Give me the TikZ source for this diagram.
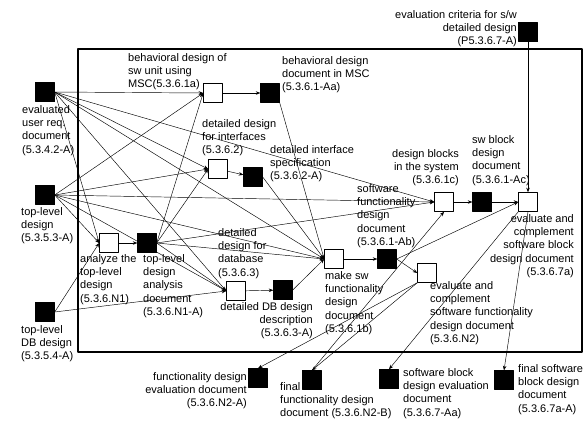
\documentclass[tikz,border=0pt]{standalone}
\usepackage{fontspec}
\setmainfont{Liberation Sans}
\usetikzlibrary{arrows.meta}
\tikzset{
  doc/.style={draw, fill=black, minimum size=19pt, inner sep=0pt},
  act/.style={draw, fill=white, minimum size=19pt, inner sep=0pt, line width=0.6pt},
  txt/.style={inner sep=0pt, align=left},
  arc/.style={-{Stealth[length=4.5pt,width=3.5pt]}, line width=0.45pt},
}
\begin{document}
\begin{tikzpicture}[x=1pt, y=-1pt, font=\fontsize{11}{13.3}\selectfont, line join=round]
        \useasboundingbox (0,0) rectangle (586,421);
        %frame
        \draw[line width=2.6pt] (78,49) rectangle (582,352);
        %documents
        \node[doc] (E1) at (45,92) {};
        \node[doc] (E2) at (45,195) {};
        \node[doc] (E3) at (45,312) {};
        \node[doc] (P1) at (270,93) {};
        \node[doc] (P2) at (253,177) {};
        \node[doc] (P3) at (147,243) {};
        \node[doc] (P4) at (283,290) {};
        \node[doc] (P5) at (387,259) {};
        \node[doc] (P6) at (482,202) {};
        \node[doc] (P7) at (528,32) {};
        \node[doc] (P8) at (258,378) {};
        \node[doc] (P9) at (312,380) {};
        \node[doc] (P10) at (389,379) {};
        \node[doc] (P11) at (504,380) {};
        %activities
        \node[act] (T1) at (213,93) {};
        \node[act] (T2) at (218,169) {};
        \node[act] (T3) at (109,243) {};
        \node[act] (T4) at (236,291) {};
        \node[act] (T5) at (334,259) {};
        \node[act] (T6) at (444,202) {};
        \node[act] (T7) at (528,202) {};
        \node[act] (T8) at (427,273) {};
        %arcs
        \foreach \t in {T1,T2,T3,T4,T5,T6}{
          \draw[arc] (E1.east) -- (\t.west);
          \draw[arc] (E2.east) -- (\t.west);
        }
        \foreach \t in {T3,T4} \draw[arc] (E3.east) -- (\t.west);
        \foreach \t in {T1,T2,T4,T5,T6} \draw[arc] (P3.east) -- (\t.west);
        \draw[arc] (T3) -- (P3);
        \draw[arc] (T1) -- (P1);
        \draw[arc] (T2) -- (P2);
        \draw[arc] (T4) -- (P4);
        \draw[arc] (T5) -- (P5);
        \draw[arc] (T6) -- (P6);
        \draw[arc] (P6) -- (T7);
        \draw[arc] (P1.south east) -- (T5.west);
        \draw[arc] (P2.east) -- (T5.west);
        \draw[arc] (P4.east) -- (T5.west);
        \draw[arc] (P5.east) -- (T7.west);
        \draw[arc] (P5.east) -- (T8.west);
        \draw[arc] (P7.south) -- (T7.north);
        \draw[arc] (P9.north) -- (T6.south);
        \draw[arc] (T7.south west) -- (P10.north);
        \draw[arc] (T7.south) -- (P11.north);
        \draw[arc] (T8.south west) -- (P8.north);
        \draw[arc] (T8.south west) -- (P9.north);
        %labels
        \node[txt, anchor=north west] (E1l) at (22,105) {evaluated\\user req.\\document\\(5.3.4.2-A)};
        \node[txt, anchor=north west] (E2l) at (21,207) {top-level\\design\\(5.3.5.3-A)};
        \node[txt, anchor=north west] (E3l) at (21,325) {top-level\\DB design\\(5.3.5.4-A)};
        \node[txt, anchor=north west] (T1l) at (128,53) {behavioral design of\\sw unit using\\MSC(5.3.6.1a)};
        \node[txt, anchor=north west] (P1l) at (282,56) {behavioral design\\document in MSC\\(5.3.6.1-Aa)};
        \node[txt, anchor=north west] (T2l) at (202,119) {detailed design\\for interfaces\\(5.3.6.2)};
        \node[txt, anchor=north west] (P2l) at (270,145) {detailed interface\\specification\\(5.3.6.2-A)};
        \node[txt, anchor=north west] (T3l) at (80,254) {analyze the\\top-level\\design\\(5.3.6.N1)};
        \node[txt, anchor=north west] (P3l) at (143,254) {top-level\\design\\analysis\\document\\(5.3.6.N1-A)};
        \node[txt, anchor=north west] (T4l) at (218,228) {detailed\\design for\\database\\(5.3.6.3)};
        \node[txt, align=right, anchor=north east] (P4l) at (313,302) {detailed DB design\\description\\(5.3.6.3-A)};
        \node[txt, anchor=north west] (T5l) at (325,271) {make sw\\functionality\\design\\document\\(5.3.6.1b)};
        \node[txt, anchor=north west] (P5l) at (357,184) {software\\functionality\\design\\document\\(5.3.6.1-Ab)};
        \node[txt, align=right, anchor=north east] (T6l) at (459,149) {design blocks\\in the system\\(5.3.6.1c)};
        \node[txt, anchor=north west] (P6l) at (472,135) {sw block\\design\\document\\(5.3.6.1-Ac)};
        \node[txt, align=right, anchor=north east] (T7l) at (574,214) {evaluate and\\complement\\software block\\design document\\(5.3.6.7a)};
        \node[txt, align=right, anchor=north east] (P7l) at (517,10) {evaluation criteria for s/w\\detailed design\\(P5.3.6.7-A)};
        \node[txt, anchor=north west] (T8l) at (430,281) {evaluate and\\complement\\software functionality\\design document\\(5.3.6.N2)};
        \node[txt, align=right, anchor=north east] (P8l) at (247,372) {functionality design\\evaluation document\\(5.3.6.N2-A)};
        \node[txt, anchor=north west] (P9l) at (280,382) {final\\functionality design\\document (5.3.6.N2-B)};
        \node[txt, anchor=north west] (P10l) at (403,368) {software block\\design evaluation\\document\\(5.3.6.7-Aa)};
        \node[txt, anchor=north west] (P11l) at (518,364) {final software\\block design\\document\\(5.3.6.7a-A)};
\end{tikzpicture}
\end{document}
